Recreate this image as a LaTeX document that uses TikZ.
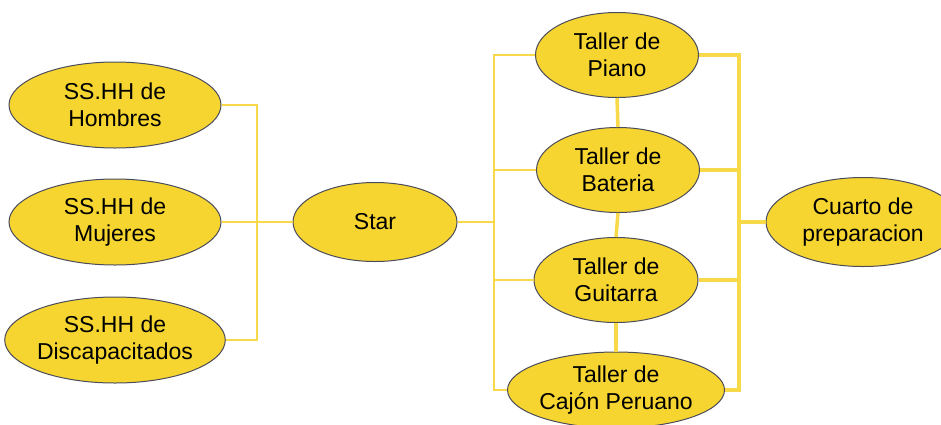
\documentclass[tikz,border=0pt]{standalone}
\usepackage{fontspec}
\setmainfont{Liberation Sans}
\usetikzlibrary{shapes.geometric,positioning}

\definecolor{roomfill}{HTML}{F6D530}
\definecolor{roomline}{HTML}{4A4C5C}
\definecolor{linkcol}{HTML}{F8D94A}

\tikzset{
  room/.style={ellipse, draw=roomline, fill=roomfill, line width=1pt, inner sep=0pt,
    align=center, font=\fontsize{23}{27}\selectfont},
  thinlink/.style={draw=linkcol, line width=1.4pt},
  thicklink/.style={draw=linkcol, line width=3.5pt}
}

\begin{document}
\begin{tikzpicture}[x=1pt,y=-1pt]
  \useasboundingbox (0,0) rectangle (941,424);

  \node[room, minimum width=212pt, minimum height=86pt] (hombres) at (115,105) {SS.HH de\\Hombres};
  \node[room, minimum width=212pt, minimum height=86pt] (mujeres) at (115,222) {SS.HH de\\Mujeres};
  \node[room, minimum width=212pt, minimum height=86pt] (discap) at (115,340) {SS.HH de\\Discapacitados};
  \node[room, minimum width=164pt, minimum height=79pt] (star) at (375,222) {Star};

  \node[room, minimum width=163pt, minimum height=85pt] (piano) at (617,55) {Taller de\\Piano};
  \node[room, minimum width=163pt, minimum height=85pt] (bateria) at (618,170) {Taller de\\Bateria};
  \node[room, minimum width=164pt, minimum height=85pt] (guitarra) at (616,280) {Taller de\\Guitarra};
  \node[room, minimum width=193pt, minimum height=76pt] (cajon) at (616,390) {Taller de\\Cajón Peruano};
  \node[room, minimum width=194pt, minimum height=89pt] (cuarto) at (863,222) {Cuarto de\\preparacion};

  \coordinate (lbus) at (257,222);
  \coordinate (mbus) at (494,222);
  \coordinate (rbus) at (739,222);

  % servicios higienicos
  \draw[thinlink] (hombres.east) -| (lbus) |- (discap.east);
  \draw[thinlink] (mujeres.east) -- (star.west);

  % talleres
  \draw[thinlink] (star.east) -- (mbus);
  \draw[thinlink] (piano.west) -| (mbus) |- (cajon.west);
  \draw[thinlink] (bateria.west) -- (bateria.west -| mbus);
  \draw[thinlink] (guitarra.west) -- (guitarra.west -| mbus);

  \draw[thicklink] (piano.east) -| (rbus) |- (cajon.east);
  \draw[thicklink] (bateria.east) -- (bateria.east -| rbus);
  \draw[thicklink] (guitarra.east) -- (guitarra.east -| rbus);
  \draw[thicklink] (rbus) -- (cuarto.west);

  \draw[thicklink] (piano.south) -- (bateria.north);
  \draw[thicklink] (bateria.south) -- (guitarra.north);
  \draw[thicklink] (guitarra.south) -- (cajon.north);
\end{tikzpicture}
\end{document}
